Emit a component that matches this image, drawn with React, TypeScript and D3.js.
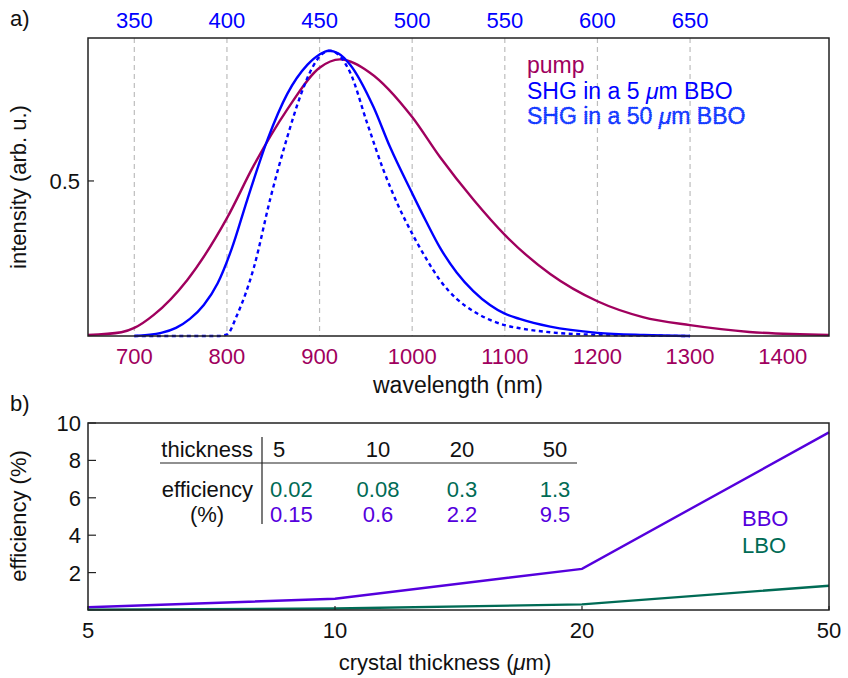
import React from "react";
import * as d3 from "d3";

// ---- Panel a) data ----
const pumpNm = [650, 686, 700, 721, 757, 800, 829, 865, 900, 922, 954, 1000, 1030, 1066, 1100, 1149, 1200, 1249, 1300, 1364, 1450];
const pumpVal = [0.003, 0.012, 0.026, 0.068, 0.18, 0.38, 0.55, 0.73, 0.865, 0.892, 0.85, 0.706, 0.577, 0.44, 0.326, 0.2, 0.112, 0.061, 0.035, 0.013, 0.003];

const shg5Nm = [700, 729, 745, 760, 775, 790, 805, 822, 844, 865, 887, 900, 910, 920, 933, 958, 976, 1000, 1015, 1030, 1048, 1066, 1084, 1100, 1116, 1149, 1200, 1250, 1300];
const shg5Val = [0, 0.01, 0.026, 0.055, 0.1, 0.17, 0.28, 0.44, 0.635, 0.78, 0.875, 0.908, 0.92, 0.912, 0.875, 0.74, 0.61, 0.46, 0.37, 0.285, 0.205, 0.145, 0.1, 0.072, 0.055, 0.03, 0.01, 0.003, 0];

const shg50Nm = [700, 790, 800, 811, 829, 847, 865, 880, 893, 903, 912, 921, 933, 951, 969, 985, 1000, 1015, 1030, 1048, 1066, 1084, 1100, 1116, 1149, 1200, 1300];
const shg50Val = [0, 0, 0.005, 0.068, 0.22, 0.445, 0.64, 0.78, 0.87, 0.91, 0.92, 0.905, 0.85, 0.69, 0.535, 0.42, 0.33, 0.25, 0.18, 0.12, 0.08, 0.052, 0.035, 0.025, 0.012, 0.004, 0];

const bottomTicks = [700, 800, 900, 1000, 1100, 1200, 1300, 1400];
const gridTicks = [700, 800, 900, 1000, 1100, 1200, 1300];
const topTickLabels = [350, 400, 450, 500, 550, 600, 650];
const intensityTicks = [0.5];

// ---- Panel b) data ----
const thickness = ["5", "10", "20", "50"];
const bboEff = [0.15, 0.6, 2.2, 9.5];
const lboEff = [0.02, 0.08, 0.3, 1.3];
const bboEffLabels = ["0.15", "0.6", "2.2", "9.5"];
const lboEffLabels = ["0.02", "0.08", "0.3", "1.3"];
const effTicks = [2, 4, 6, 8, 10];

const FONT = "'Liberation Sans', Arial, Helvetica, sans-serif";
const PUMP = "#a0005e";
const BLUE = "#0000ff";
const BLUE2 = "#1448ff";
const BBO = "#5500dd";
const LBO = "#006b55";
const FS = 22;

export default function App() {
  // panel a scales
  const xA = d3.scaleLinear().domain([650, 1450]).range([88, 829]);
  const yA = d3.scaleLinear().domain([0, 0.961]).range([336, 38]);
  const lineA = (xs: number[], ys: number[]) =>
    d3
      .line<number>()
      .x((_, i) => xA(xs[i]))
      .y((d) => yA(d))
      .curve(d3.curveMonotoneX)(ys) as string;

  // panel b scales
  const xB = d3.scalePoint<string>().domain(thickness).range([88, 829]);
  const yB = d3.scaleLinear().domain([0, 10]).range([610, 423]);
  const lineB = (ys: number[]) =>
    d3
      .line<number>()
      .x((_, i) => xB(thickness[i]) as number)
      .y((d) => yB(d))(ys) as string;

  const colX = [270, 378, 462, 555];

  return (
    <svg width={848} height={678} style={{ position: "absolute", left: 0, top: 0 }} fontFamily={FONT}>
      <rect width={848} height={678} fill="#fff" />
      {/* ---------- Panel a ---------- */}
      <text x={10} y={26} fontSize={FS} fill="#111">a)</text>
      {gridTicks.map((t) => (
        <line key={"g" + t} x1={xA(t)} x2={xA(t)} y1={38} y2={336} stroke="#bdbdbd" strokeWidth={1.2} strokeDasharray="5 4" />
      ))}
      <path d={lineA(pumpNm, pumpVal)} fill="none" stroke={PUMP} strokeWidth={2.4} />
      <path d={lineA(shg5Nm, shg5Val)} fill="none" stroke={BLUE} strokeWidth={2.4} />
      <path d={lineA(shg50Nm, shg50Val)} fill="none" stroke={BLUE} strokeWidth={2.4} strokeDasharray="4 3.5" />
      <rect x={88} y={38} width={741} height={298} fill="none" stroke="#222" strokeWidth={1.5} />
      {intensityTicks.map((t) => (
        <g key={"it" + t}>
          <line x1={88} x2={94} y1={yA(t)} y2={yA(t)} stroke="#222" strokeWidth={1.2} />
          <text x={80} y={yA(t) + 8} fontSize={FS} textAnchor="end" fill="#111">{t}</text>
        </g>
      ))}
      {bottomTicks.map((t) => (
        <text key={"bt" + t} x={xA(t)} y={364} fontSize={FS} textAnchor="middle" fill={PUMP}>{t}</text>
      ))}
      {topTickLabels.map((t) => (
        <text key={"tt" + t} x={xA(t * 2)} y={28} fontSize={FS} textAnchor="middle" fill={BLUE}>{t}</text>
      ))}
      <text x={458} y={393} fontSize={FS + 1} textAnchor="middle" fill="#111">wavelength (nm)</text>
      <text transform="translate(26,187) rotate(-90)" fontSize={FS} textAnchor="middle" fill="#111">intensity (arb. u.)</text>
      <text x={527} y={73} fontSize={FS + 1} fill={PUMP}>pump</text>
      <text x={527} y={99} fontSize={FS + 1} fill={BLUE}>
        SHG in a 5 <tspan fontStyle="italic">μ</tspan>m BBO
      </text>
      <text x={527} y={124} fontSize={FS + 1} fill={BLUE2} stroke={BLUE} strokeWidth={0.6} strokeDasharray="1.2 1">
        SHG in a 50 <tspan fontStyle="italic">μ</tspan>m BBO
      </text>

      {/* ---------- Panel b ---------- */}
      <text x={10} y={411} fontSize={FS} fill="#111">b)</text>
      <path d={lineB(bboEff)} fill="none" stroke={BBO} strokeWidth={2.4} />
      <path d={lineB(lboEff)} fill="none" stroke={LBO} strokeWidth={2.4} />
      <rect x={88} y={423} width={741} height={187} fill="none" stroke="#222" strokeWidth={1.5} />
      {effTicks.map((t) => (
        <g key={"et" + t}>
          <line x1={88} x2={96} y1={yB(t)} y2={yB(t)} stroke="#222" strokeWidth={1.2} />
          <text x={81} y={yB(t) + 8} fontSize={FS} textAnchor="end" fill="#111">{t}</text>
        </g>
      ))}
      {thickness.map((t) => (
        <g key={"xt" + t}>
          <line x1={xB(t)} x2={xB(t)} y1={610} y2={606} stroke="#222" strokeWidth={1.2} />
          <text x={xB(t)} y={638} fontSize={FS} textAnchor="middle" fill="#111">{t}</text>
        </g>
      ))}
      <text x={445} y={670} fontSize={FS} textAnchor="middle" fill="#111">
        crystal thickness (<tspan fontStyle="italic">μ</tspan>m)
      </text>
      <text transform="translate(26,516) rotate(-90)" fontSize={FS} textAnchor="middle" fill="#111">efficiency (%)</text>
      <text x={742} y={526} fontSize={FS} fill={BBO}>BBO</text>
      <text x={742} y={553} fontSize={FS} fill={LBO}>LBO</text>

      {/* table */}
      <line x1={160} x2={577} y1={463} y2={463} stroke="#222" strokeWidth={1.2} />
      <line x1={262} x2={262} y1={437} y2={524} stroke="#222" strokeWidth={1.2} />
      <text x={253} y={457} fontSize={FS} textAnchor="end" fill="#111">thickness</text>
      <text x={253} y={497} fontSize={FS} textAnchor="end" fill="#111">efficiency</text>
      <text x={207} y={522} fontSize={FS} textAnchor="middle" fill="#111">(%)</text>
      {thickness.map((t, i) => (
        <g key={"tb" + t}>
          <text x={i === 0 ? colX[0] + 3 : colX[i]} y={457} fontSize={FS} textAnchor={i === 0 ? "start" : "middle"} fill="#111">{t}</text>
          <text x={i === 0 ? colX[0] : colX[i]} y={497} fontSize={FS} textAnchor={i === 0 ? "start" : "middle"} fill={LBO}>{lboEffLabels[i]}</text>
          <text x={i === 0 ? colX[0] : colX[i]} y={522} fontSize={FS} textAnchor={i === 0 ? "start" : "middle"} fill={BBO}>{bboEffLabels[i]}</text>
        </g>
      ))}
    </svg>
  );
}
